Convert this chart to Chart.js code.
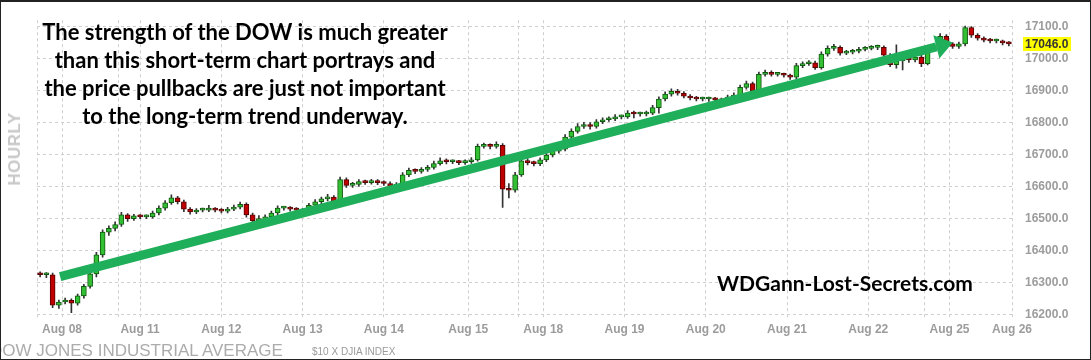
<!DOCTYPE html>
<html>
<head>
<meta charset="utf-8">
<script src="https://cdn.jsdelivr.net/npm/chart.js@4.4.1/dist/chart.umd.min.js"></script>
<style>
  html, body { margin: 0; padding: 0; background: #fff; }
  #wrap { position: relative; width: 1091px; height: 360px; overflow: hidden; background: #fff; }
  #chart { position: absolute; left: 0; top: 0; }
  #frame { position: absolute; left: 0; top: 0; width: 1091px; height: 360px; box-sizing: border-box;
           border: 1px solid #222; border-top-width: 2px; pointer-events: none; }
  .note { position: absolute; font-family: Lato, "Open Sans", sans-serif; font-weight: 700; color: #000;
          line-height: 28px; white-space: nowrap; }
  #msg { left: 0; top: 18px; width: 490px; text-align: center; font-size: 22px; }
  #site { left: 717px; top: 269px; font-size: 21px; }
  #hourly { position: absolute; left: 15px; top: 149px; transform: translate(-50%, -50%) rotate(-90deg);
            font: bold 17px "Liberation Sans", Arial, sans-serif; color: #c8c8c8; letter-spacing: 0.5px; white-space: nowrap; }
  #title { position: absolute; left: -10px; top: 341px; font: 17px/20px "Liberation Sans", Arial, sans-serif;
           color: #acacac; white-space: nowrap; }
  #sub { position: absolute; left: 312px; top: 346px; font: 10px/12px "Liberation Sans", Arial, sans-serif;
         color: #9a9a9a; white-space: nowrap; }
</style>
</head>
<body>
<div id="wrap">
  <canvas id="chart" width="1091" height="360"></canvas>
  <div id="hourly">HOURLY</div>
  <div class="note" id="msg">The strength of the DOW is much greater<br>than this short-term chart portrays and<br>the price pullbacks are just not important<br>to the long-term trend underway.</div>
  <div class="note" id="site">WDGann-Lost-Secrets.com</div>
  <div id="title">DOW JONES INDUSTRIAL AVERAGE</div>
  <div id="sub">$10 X DJIA INDEX</div>
  <div id="frame"></div>
</div>
<script>
// DJIA, half-hour bars from Aug 07 close to Aug 26 morning
const opens = [16328,16325,16325,16230,16240,16245,16236,16259,16289,16328,16387,16458,16470,
  16482,16512,16500,16509,16506,16506,16518,16533,16550,16565,16553,16530,16521,
  16527,16527,16530,16527,16524,16530,16536,16545,16512,16494,16497,16506,16518,
  16533,16533,16530,16527,16524,16542,16553,16562,16568,16553,16622,16604,16607,
  16616,16613,16616,16613,16610,16601,16607,16637,16651,16648,16654,16660,16672,
  16681,16678,16678,16675,16678,16684,16726,16729,16726,16729,16592,16589,16637,
  16681,16675,16672,16684,16699,16711,16717,16755,16773,16788,16794,16788,16803,
  16809,16812,16818,16818,16830,16827,16827,16830,16847,16874,16889,16898,16892,
  16883,16877,16874,16874,16874,16871,16868,16880,16886,16910,16922,16898,16951,
  16957,16951,16951,16948,16942,16978,16984,16987,16972,17014,17032,17035,17017,
  17020,17023,17029,17032,17035,17035,17011,16981,16993,16999,16996,17005,16984,
  17029,17041,17070,17046,17038,17046,17097,17073,17064,17058,17055,17055,17049];

const highs = [16334,16332,16330,16246,16252,16250,16265,16295,16334,16395,16465,16478,16490,
  16520,16516,16514,16513,16512,16524,16540,16557,16575,16570,16558,16535,16532,
  16533,16542,16535,16532,16536,16543,16552,16550,16518,16510,16512,16524,16540,
  16539,16538,16535,16532,16548,16560,16568,16576,16572,16630,16628,16614,16622,
  16621,16623,16622,16618,16615,16613,16644,16658,16656,16660,16667,16680,16690,
  16687,16684,16682,16684,16691,16733,16736,16734,16740,16735,16610,16645,16690,
  16688,16680,16690,16706,16718,16724,16763,16781,16797,16801,16800,16810,16815,
  16818,16825,16824,16838,16836,16833,16836,16854,16881,16896,16906,16904,16897,
  16888,16882,16880,16880,16879,16877,16886,16893,16917,16930,16927,16958,16964,
  16962,16957,16955,16952,16985,16990,16994,16992,17021,17040,17045,17040,17026,
  17029,17035,17038,17041,17042,17040,17016,17043,17005,17006,17012,17010,17036,
  17048,17078,17075,17050,17052,17102,17100,17078,17068,17063,17061,17058,17053];

const lows = [16318,16316,16222,16220,16234,16207,16230,16252,16283,16318,16380,16448,16462,
  16476,16492,16495,16500,16500,16502,16512,16527,16545,16546,16522,16514,16516,
  16521,16522,16521,16518,16518,16525,16531,16505,16485,16474,16480,16500,16512,
  16527,16524,16520,16516,16518,16536,16547,16556,16545,16548,16598,16598,16601,
  16607,16608,16606,16604,16594,16596,16602,16631,16641,16642,16648,16655,16667,
  16671,16672,16669,16670,16673,16680,16720,16718,16720,16535,16565,16583,16632,
  16668,16665,16666,16678,16693,16705,16712,16750,16767,16782,16780,16783,16797,
  16804,16806,16812,16813,16815,16820,16821,16825,16830,16868,16883,16886,16877,
  16871,16868,16868,16866,16864,16858,16860,16875,16881,16905,16890,16893,16945,
  16945,16945,16942,16935,16937,16972,16979,16966,16967,17008,17026,17011,17012,
  17015,17018,17024,17027,17028,17005,16975,16970,16965,16988,16990,16975,16980,
  17024,17036,17040,17032,17032,17040,17066,17058,17052,17049,17049,17043,17040];

const closes = [16325,16325,16230,16240,16245,16236,16259,16289,16328,16387,16458,16470,16482,
  16512,16500,16509,16506,16506,16518,16533,16550,16565,16553,16530,16521,16527,
  16527,16530,16527,16524,16530,16536,16545,16512,16494,16497,16506,16518,16533,
  16533,16530,16527,16524,16542,16553,16562,16568,16553,16622,16604,16607,16616,
  16613,16616,16613,16610,16601,16607,16637,16651,16648,16654,16660,16672,16681,
  16678,16678,16675,16678,16684,16726,16729,16726,16729,16592,16589,16637,16681,
  16675,16672,16684,16699,16711,16717,16755,16773,16788,16794,16788,16803,16809,
  16812,16818,16818,16830,16827,16827,16830,16847,16874,16889,16898,16892,16883,
  16877,16874,16874,16874,16871,16868,16880,16886,16910,16922,16898,16951,16957,
  16951,16951,16948,16942,16978,16984,16987,16972,17014,17032,17035,17017,17020,
  17023,17029,17032,17035,17035,17011,16981,16993,16999,16996,17005,16984,17029,
  17041,17070,17046,17038,17046,17097,17073,17064,17058,17055,17055,17049,17046];

// x ticks are bar positions; blank labels are the extra weekly grid lines
const xTickPos = [-0.5, 3.5, 12.5, 16, 29, 42, 55, 68.5, 76.5, 80.5, 93.5, 106.5, 119.5, 132.5, 141.5, 145.5, 155.5];
const xTickLabels = ['', 'Aug 08', '', 'Aug 11', 'Aug 12', 'Aug 13', 'Aug 14', 'Aug 15', '', 'Aug 18',
  'Aug 19', 'Aug 20', 'Aug 21', 'Aug 22', '', 'Aug 25', 'Aug 26'];
const yTicks = [16200, 16300, 16400, 16500, 16600, 16700, 16800, 16900, 17000, 17100];

// hand-drawn trend arrow (bar position, price)
const trendLine = [{x: 3.2, y: 16319}, {x: 143.4, y: 17037}];

const UP = '#33bf33', UP_EDGE = '#0f5a0f';
const DOWN = '#c00000', DOWN_EDGE = '#560000';
const ARROW = '#1fae5a';
const GRID = '#cfcfcf';
const TICK = '#9c9c9c';

const isUp = i => closes[i] >= opens[i];

const arrowHead = {
  id: 'arrowHead',
  afterDatasetsDraw(chart) {
    const pts = chart.getDatasetMeta(2).data;
    if (pts.length < 2) return;
    const a = pts[0], b = pts[pts.length - 1];
    const dx = b.x - a.x, dy = b.y - a.y;
    const len = Math.hypot(dx, dy);
    const ux = dx / len, uy = dy / len;
    const ctx = chart.ctx;
    ctx.save();
    ctx.fillStyle = ARROW;
    ctx.beginPath();
    ctx.moveTo(b.x + ux * 17, b.y + uy * 17);
    ctx.lineTo(b.x - uy * 12, b.y + ux * 12);
    ctx.lineTo(b.x + uy * 12, b.y - ux * 12);
    ctx.closePath();
    ctx.fill();
    ctx.restore();
  }
};

const lastPrice = {
  id: 'lastPrice',
  afterDraw(chart) {
    const y = chart.scales.y;
    const last = closes[closes.length - 1];
    const py = y.getPixelForValue(last);
    const ctx = chart.ctx;
    ctx.save();
    ctx.fillStyle = '#ffff00';
    ctx.fillRect(chart.chartArea.right + 11, Math.round(py) - 7, 48, 14);
    ctx.fillStyle = '#333';
    ctx.font = 'bold 12px "Liberation Sans", Arial, sans-serif';
    ctx.textBaseline = 'middle';
    ctx.fillText(last.toFixed(1), chart.chartArea.right + 13, py + 0.5);
    ctx.restore();
  }
};

new Chart(document.getElementById('chart'), {
  type: 'bar',
  data: {
    datasets: [
      {
        label: 'wick',
        data: closes.map((c, i) => ({x: i, y: [lows[i], highs[i]]})),
        backgroundColor: '#333',
        barThickness: 1,
        grouped: false,
        order: 3
      },
      {
        label: 'body',
        data: closes.map((c, i) => ({x: i, y: [opens[i], c]})),
        backgroundColor: ctx => isUp(ctx.dataIndex) ? UP : DOWN,
        borderColor: ctx => isUp(ctx.dataIndex) ? UP_EDGE : DOWN_EDGE,
        borderWidth: 1,
        borderSkipped: false,
        barThickness: 5,
        minBarLength: 2,
        grouped: false,
        order: 2
      },
      {
        type: 'line',
        label: 'trend',
        data: trendLine,
        borderColor: ARROW,
        borderWidth: 9,
        borderCapStyle: 'butt',
        pointRadius: 0,
        order: 1
      }
    ]
  },
  options: {
    responsive: false,
    animation: false,
    devicePixelRatio: 1,
    layout: { padding: { left: 37, top: 5, right: 0, bottom: 0 } },
    plugins: { legend: { display: false }, tooltip: { enabled: false } },
    scales: {
      x: {
        type: 'linear',
        min: -0.5,
        max: 155.5,
        offset: false,
        afterBuildTicks: s => { s.ticks = xTickPos.map(v => ({value: v})); },
        afterFit: s => { s.height = 42; },
        grid: { color: GRID, drawTicks: false, offset: false },
        border: { display: false, dash: [3, 3] },
        ticks: {
          autoSkip: false,
          maxRotation: 0,
          padding: 4,
          color: TICK,
          font: { family: '"Liberation Sans", Arial, sans-serif', size: 12, weight: 'bold' },
          callback: (v, i) => xTickLabels[i]
        }
      },
      y: {
        position: 'right',
        min: 16190,
        max: 17120,
        afterBuildTicks: s => { s.ticks = yTicks.map(v => ({value: v})); },
        afterFit: s => { s.width = 79; },
        grid: { color: GRID, drawTicks: false },
        border: { display: false, dash: [3, 3] },
        ticks: {
          padding: 13,
          color: TICK,
          font: { family: '"Liberation Sans", Arial, sans-serif', size: 12, weight: 'bold' },
          callback: v => Number(v).toFixed(1)
        }
      }
    }
  },
  plugins: [arrowHead, lastPrice]
});
</script>
</body>
</html>
